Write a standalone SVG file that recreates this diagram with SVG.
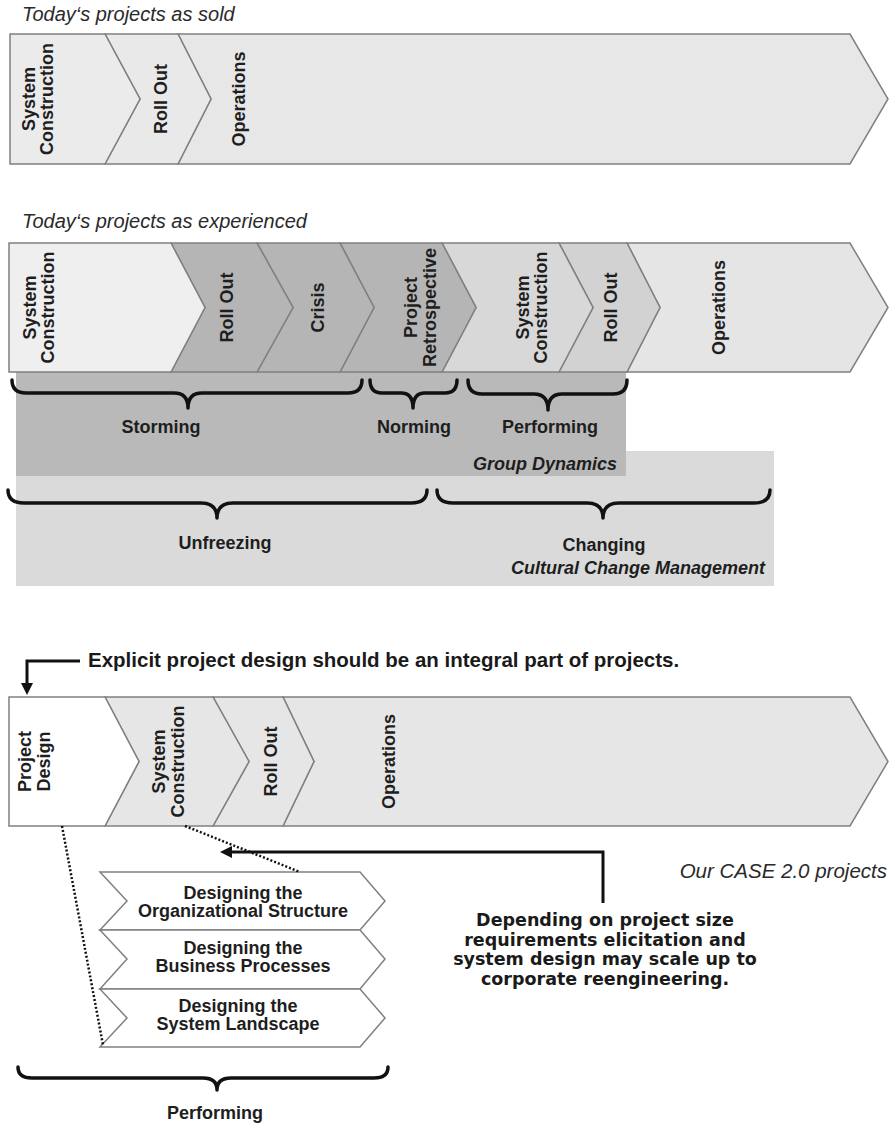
<svg xmlns="http://www.w3.org/2000/svg" width="890" height="1124" viewBox="0 0 890 1124">
<style>
.seg{stroke:#808080;stroke-width:1.5;stroke-linejoin:miter}
.lab{font-family:"Liberation Sans",Arial,sans-serif;font-weight:bold;font-size:18px;fill:#1e1e1e;text-anchor:middle}
.ttl{font-family:"Liberation Sans",Arial,sans-serif;font-style:italic;font-size:20px;fill:#2a2a2a}
.bt{font-family:"Liberation Sans",Arial,sans-serif;font-weight:bold;font-size:18px;fill:#1e1e1e;text-anchor:middle}
.bi{font-family:"Liberation Sans",Arial,sans-serif;font-weight:bold;font-style:italic;font-size:18px;fill:#1e1e1e}
.big{font-family:"Liberation Sans",Arial,sans-serif;font-weight:bold;font-size:20.5px;fill:#1a1a1a}
.note{font-family:"DejaVu Sans","Liberation Sans",sans-serif;font-weight:bold;font-size:17.5px;fill:#1a1a1a;text-anchor:middle}
.brace{fill:none;stroke:#111;stroke-width:3.5;stroke-linecap:round;stroke-linejoin:round}
.arr{fill:none;stroke:#111;stroke-width:3}
.dot{fill:none;stroke:#111;stroke-width:2.5;stroke-dasharray:2 2}
.sub{fill:#ffffff;stroke:#808080;stroke-width:1.5}
</style>
<defs>
<marker id="ah" markerUnits="userSpaceOnUse" markerWidth="14" markerHeight="12" refX="2" refY="6" orient="auto">
<path d="M0,0 L12,6 L0,12 Z" fill="#111"/>
</marker>
</defs>

<!-- Bar 1 -->
<g id="bar1">
<text class="ttl" x="22" y="21">Today‘s projects as sold</text>
<polygon class="seg" fill="#e7e7e7" points="178,34 850,34 888,99 850,164 178,164 211,99"/>
<polygon class="seg" fill="#e9e9e9" points="105,34 178,34 211,99 178,164 105,164 140,99"/>
<polygon class="seg" fill="#ebebeb" points="10,34 105,34 140,99 105,164 10,164"/>
<text class="lab" transform="translate(34.5,99) rotate(-90)">System</text>
<text class="lab" transform="translate(53,99) rotate(-90)">Construction</text>
<text class="lab" transform="translate(166.5,99) rotate(-90)">Roll Out</text>
<text class="lab" transform="translate(244.5,99) rotate(-90)">Operations</text>
</g>

<!-- Background boxes -->
<g id="cultural-change-box">
<rect x="16" y="451" width="758" height="135" fill="#dadada"/>
</g>
<g id="group-dynamics-box">
<rect x="16" y="372" width="610" height="104" fill="#b9b9b9"/>
</g>

<!-- Bar 2 -->
<g id="bar2">
<text class="ttl" x="22" y="228">Today‘s projects as experienced</text>
<polygon class="seg" fill="#e5e5e5" points="627,243 850,243 888,307.5 850,372 627,372 660,307.5"/>
<polygon class="seg" fill="#d2d2d2" points="559,243 627,243 660,307.5 627,372 559,372 593,307.5"/>
<polygon class="seg" fill="#d8d8d8" points="442,243 559,243 593,307.5 559,372 442,372 476,307.5"/>
<polygon class="seg" fill="#b5b5b5" points="340,243 442,243 476,307.5 442,372 340,372 374,307.5"/>
<polygon class="seg" fill="#b5b5b5" points="257,243 340,243 374,307.5 340,372 257,372 293,307.5"/>
<polygon class="seg" fill="#b5b5b5" points="171,243 257,243 293,307.5 257,372 171,372 205,307.5"/>
<polygon class="seg" fill="#efefef" points="9,243 171,243 205,307.5 171,372 9,372"/>
<text class="lab" transform="translate(36,307.5) rotate(-90)">System</text>
<text class="lab" transform="translate(53.5,307.5) rotate(-90)">Construction</text>
<text class="lab" transform="translate(232.5,307.5) rotate(-90)">Roll Out</text>
<text class="lab" transform="translate(323.5,307.5) rotate(-90)">Crisis</text>
<text class="lab" transform="translate(416.5,307.5) rotate(-90)">Project</text>
<text class="lab" transform="translate(436,307.5) rotate(-90)">Retrospective</text>
<text class="lab" transform="translate(528.5,307.5) rotate(-90)">System</text>
<text class="lab" transform="translate(547,307.5) rotate(-90)">Construction</text>
<text class="lab" transform="translate(616.5,307.5) rotate(-90)">Roll Out</text>
<text class="lab" transform="translate(724.5,307.5) rotate(-90)">Operations</text>
</g>

<!-- Braces -->
<g id="braces">
<path class="brace" d="M12,380 Q12,393 26,393 L174,393 Q188,393 188,408 Q188,393 202,393 L348,393 Q362,393 362,380"/>
<path class="brace" d="M370,380 Q370,393 382,393 L401,393 Q413,393 413,408 Q413,393 425,393 L445,393 Q457,393 457,380"/>
<path class="brace" d="M468,380 Q468,394 482,394 L534,394 Q548,394 548,410 Q548,394 562,394 L613,394 Q627,394 627,380"/>
<path class="brace" d="M8,490 Q8,503 24,503 L201,503 Q217,503 217,518 Q217,503 233,503 L411,503 Q427,503 427,490"/>
<path class="brace" d="M437,490 Q437,503 453,503 L587,503 Q603,503 603,518 Q603,503 619,503 L754,503 Q770,503 770,490"/>
<path class="brace" d="M18,1067 Q18,1078 32,1078 L203,1078 Q217,1078 217,1090 Q217,1078 231,1078 L374,1078 Q388,1078 388,1067"/>
</g>

<g id="phase-labels">
<text class="bt" x="161" y="433">Storming</text>
<text class="bt" x="414" y="433">Norming</text>
<text class="bt" x="550" y="433">Performing</text>
<text class="bi" x="473" y="470">Group Dynamics</text>
<text class="bt" x="225" y="549">Unfreezing</text>
<text class="bt" x="604" y="551">Changing</text>
<text class="bi" x="765" y="574" text-anchor="end">Cultural Change Management</text>
<text class="bt" x="215" y="1119">Performing</text>
</g>

<!-- Bar 3 -->
<g id="bar3">
<text class="big" x="88" y="667">Explicit project design should be an integral part of projects.</text>
<polygon class="seg" fill="#e6e6e6" points="283,697 850,697 888,761.5 850,826 283,826 314,761.5"/>
<polygon class="seg" fill="#e6e6e6" points="213,697 283,697 314,761.5 283,826 213,826 249,761.5"/>
<polygon class="seg" fill="#e6e6e6" points="105,697 213,697 249,761.5 213,826 105,826 139,761.5"/>
<polygon class="seg" fill="#ffffff" points="9,697 105,697 139,761.5 105,826 9,826"/>
<text class="lab" transform="translate(30.5,761.5) rotate(-90)">Project</text>
<text class="lab" transform="translate(49.5,761.5) rotate(-90)">Design</text>
<text class="lab" transform="translate(164.5,761.5) rotate(-90)">System</text>
<text class="lab" transform="translate(183.5,761.5) rotate(-90)">Construction</text>
<text class="lab" transform="translate(276.5,761.5) rotate(-90)">Roll Out</text>
<text class="lab" transform="translate(394.5,761.5) rotate(-90)">Operations</text>
<text class="ttl" x="887" y="878" text-anchor="end" style="font-size:20.5px">Our CASE 2.0 projects</text>
</g>

<!-- Sub chevrons -->
<g id="sub-org">
<polygon class="sub" points="100,872 360,872 385,901 360,930 100,930 127,901"/>
<text class="bt" x="243" y="899">Designing the</text>
<text class="bt" x="243" y="917">Organizational Structure</text>
</g>
<g id="sub-bp">
<polygon class="sub" points="100,930 360,930 385,959 360,989 100,989 127,959"/>
<text class="bt" x="243" y="954">Designing the</text>
<text class="bt" x="243" y="972">Business Processes</text>
</g>
<g id="sub-sl">
<polygon class="sub" points="100,989 360,989 385,1018 360,1047 100,1047 127,1018"/>
<text class="bt" x="238" y="1011.5">Designing the</text>
<text class="bt" x="238" y="1030">System Landscape</text>
</g>

<g id="note">
<text class="note" x="605" y="926">Depending on project size</text>
<text class="note" x="605" y="945.5">requirements elicitation and</text>
<text class="note" x="605" y="965">system design may scale up to</text>
<text class="note" x="605" y="984.5">corporate reengineering.</text>
</g>

<!-- Connectors -->
<g id="connectors">
<path class="dot" d="M62,826 L103,1045"/>
<path class="dot" d="M185,826 L300,872"/>
<path class="arr" d="M80,661 L27,661 L27,685" marker-end="url(#ah)"/>
<path class="arr" d="M603,903 L603,852 L230,852" marker-end="url(#ah)"/>
</g>
</svg>
